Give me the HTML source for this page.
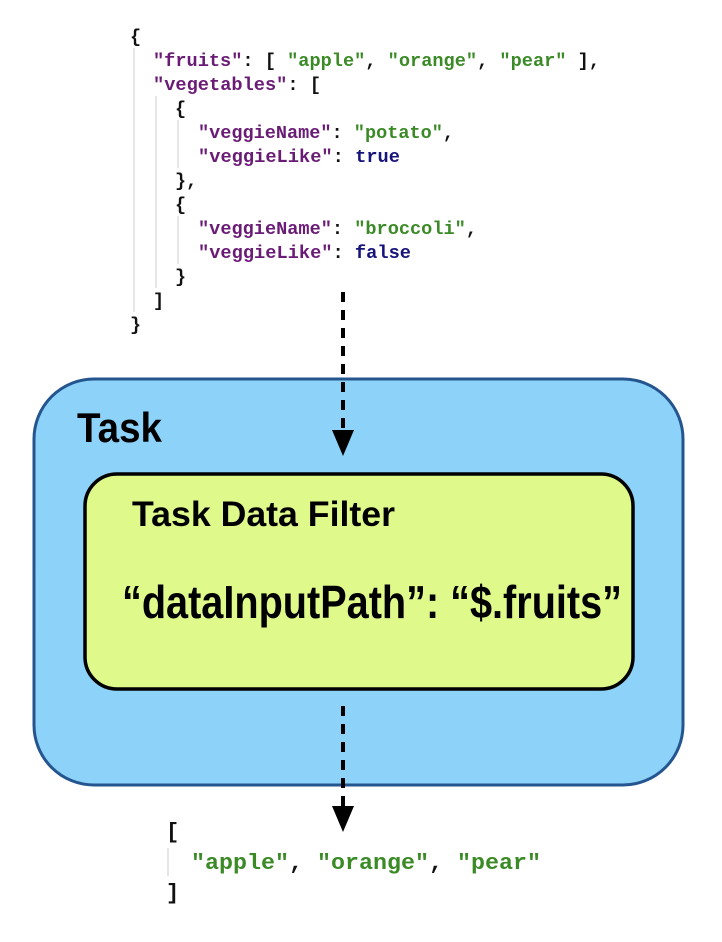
<!DOCTYPE html>
<html><head><meta charset="utf-8"><style>
body{margin:0;background:#fff;}
svg{display:block}
.c{font-family:"Liberation Mono",monospace;font-weight:bold;font-size:18.5px;}
.k{fill:#6a1b76}.s{fill:#3a8a26}.b{fill:#16137a}.p{fill:#111}
.h{font-family:"Liberation Sans",sans-serif;font-weight:bold;fill:#000}
</style></head><body>
<svg width="722" height="942" viewBox="0 0 722 942" xmlns="http://www.w3.org/2000/svg">
<g stroke="#ddd" stroke-width="1.5">
<line x1="134" y1="48" x2="134" y2="312"/>
<line x1="156" y1="96" x2="156" y2="288"/>
<line x1="178" y1="120" x2="178" y2="168"/>
<line x1="178" y1="216" x2="178" y2="264"/>
<line x1="168" y1="848" x2="168" y2="876"/>
</g>
<g class="c" xml:space="preserve">
<text x="130" y="42" class="p">{</text>
<text x="153" y="66" textLength="447" lengthAdjust="spacingAndGlyphs"><tspan class="k">"fruits"</tspan><tspan class="p">: [ </tspan><tspan class="s">"apple"</tspan><tspan class="p">, </tspan><tspan class="s">"orange"</tspan><tspan class="p">, </tspan><tspan class="s">"pear"</tspan><tspan class="p"> ],</tspan></text>
<text x="153" y="90" textLength="168" lengthAdjust="spacingAndGlyphs"><tspan class="k">"vegetables"</tspan><tspan class="p">: [</tspan></text>
<text x="175" y="114" class="p">{</text>
<text x="198" y="138" textLength="256" lengthAdjust="spacingAndGlyphs"><tspan class="k">"veggieName"</tspan><tspan class="p">: </tspan><tspan class="s">"potato"</tspan><tspan class="p">,</tspan></text>
<text x="198" y="162" textLength="202" lengthAdjust="spacingAndGlyphs"><tspan class="k">"veggieLike"</tspan><tspan class="p">: </tspan><tspan class="b">true</tspan></text>
<text x="175" y="186" class="p">},</text>
<text x="175" y="210" class="p">{</text>
<text x="198" y="234" textLength="279" lengthAdjust="spacingAndGlyphs"><tspan class="k">"veggieName"</tspan><tspan class="p">: </tspan><tspan class="s">"broccoli"</tspan><tspan class="p">,</tspan></text>
<text x="198" y="258" textLength="213" lengthAdjust="spacingAndGlyphs"><tspan class="k">"veggieLike"</tspan><tspan class="p">: </tspan><tspan class="b">false</tspan></text>
<text x="175" y="282" class="p">}</text>
<text x="153" y="306" class="p">]</text>
<text x="130" y="330" class="p">}</text>
</g>
<rect x="34" y="379" width="649" height="406" rx="60" fill="#8dd3f9" stroke="#24558f" stroke-width="3"/>
<rect x="85" y="474" width="548" height="215" rx="32" fill="#dff98a" stroke="#000" stroke-width="3.5"/>
<g stroke="#000" stroke-width="4" stroke-dasharray="10,8">
<line x1="343" y1="292" x2="343" y2="432"/>
<line x1="343" y1="706" x2="343" y2="810"/>
</g>
<polygon points="332,430 354,430 343,456" fill="#000"/>
<polygon points="332,806 354,806 343,832" fill="#000"/>
<text class="h" x="77" y="442" font-size="42" textLength="85" lengthAdjust="spacingAndGlyphs">Task</text>
<text class="h" x="132" y="526" font-size="35" textLength="263" lengthAdjust="spacingAndGlyphs">Task Data Filter</text>
<text class="h" x="122" y="618" font-size="46" textLength="500" lengthAdjust="spacingAndGlyphs">“dataInputPath”: “$.fruits”</text>
<g class="c" style="font-size:22px" xml:space="preserve">
<text x="166" y="838" class="p">[</text>
<text x="191" y="869" textLength="350" lengthAdjust="spacingAndGlyphs"><tspan class="s">"apple"</tspan><tspan class="p">, </tspan><tspan class="s">"orange"</tspan><tspan class="p">, </tspan><tspan class="s">"pear"</tspan></text>
<text x="166" y="899" class="p">]</text>
</g>
</svg>
</body></html>
